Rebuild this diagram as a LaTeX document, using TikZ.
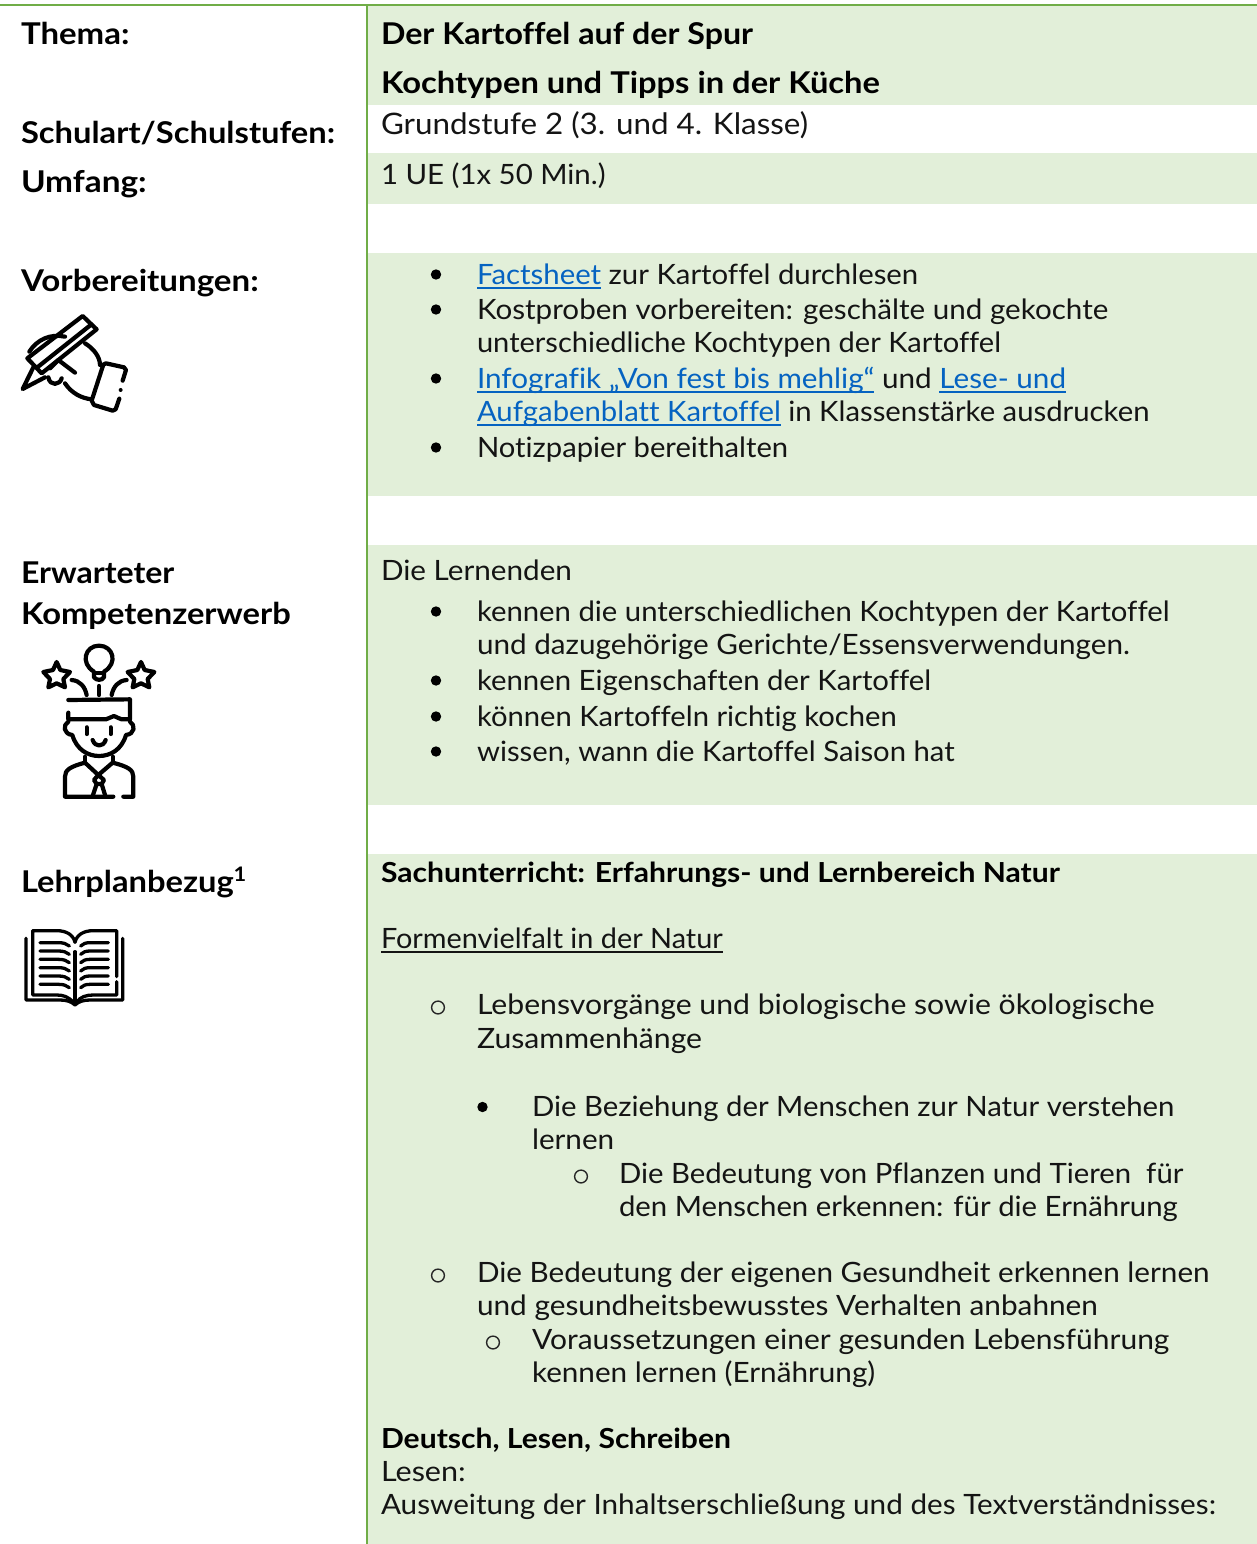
\documentclass[tikz,border=0pt]{standalone}
\usepackage{graphicx}
\usepackage{fontspec}
\setmainfont{Lato}[FakeStretch=1.06,Ligatures=NoCommon]
\newfontfamily\headf{Lato}[FakeStretch=1.09,Ligatures=NoCommon]
\definecolor{bandgreen}{HTML}{E2EFD9}
\definecolor{rulegreen}{HTML}{70AD47}
\definecolor{linkblue}{HTML}{0563C1}
\newcommand{\ulx}[1]{\setbox0=\hbox{#1}\rlap{\rule[-4.5pt]{\wd0}{1.4pt}}\box0}
\newcommand{\sx}[2]{\scalebox{#1}[1]{#2}}
\tikzset{
  body/.style={anchor=base west,inner sep=0pt,outer sep=0pt,font=\fontsize{28}{33}\selectfont,text=black!92},
  bodybig/.style={body,font=\fontsize{29.6}{33}\selectfont},
  head/.style={anchor=base west,inner sep=0pt,outer sep=0pt,font=\headf\fontsize{30}{33}\selectfont\bfseries},
  headsmall/.style={head,font=\headf\fontsize{27.6}{33}\selectfont\bfseries},
  band/.style={fill=bandgreen,draw=none},
  dotb/.style={fill=black,draw=none},
  ringb/.style={draw=black!85,line width=1.4pt,fill=none},
  ico/.style={line width=4.2pt,line cap=round,line join=round,draw=black,fill=none},
  icob/.style={ico,line width=3.3pt},
}
\begin{document}
\begin{tikzpicture}[x=1pt,y=-1pt]
\useasboundingbox (0,0) rectangle (1257,1544);
\fill[white] (0,0) rectangle (1257,1544);
\fill[band] (367,5) rectangle (1257,105);
\fill[band] (367,153) rectangle (1257,204);
\fill[band] (367,253) rectangle (1257,496);
\fill[band] (367,545) rectangle (1257,805);
\fill[band] (367,854) rectangle (1257,1544);
\draw[rulegreen,line width=2.2pt] (0,5) -- (1257,5);
\draw[rulegreen,line width=2.2pt] (367,5) -- (367,1544);
% left column
\node[head] (l1) at (21,44.5) {\sx{1.008}{Thema:}};
\node[head] (l2) at (21,143) {Schulart/Schulstufen:};
\node[head] (l3) at (21,192) {\sx{1.02}{Umfang:}};
\node[head] (l4) at (21,291.5) {\sx{1.012}{Vorbereitungen:}};
\node[head] (l5) at (21,583.5) {\sx{0.98}{Erwarteter}};
\node[head] (l6) at (21,624.5) {Kompetenzerwerb};
\node[head] (l7) at (21,892.5) {Lehrplanbezug\raisebox{11pt}{\fontsize{20}{20}\selectfont 1}};
% right column
\node[head] (r1) at (381,44.5) {\sx{0.984}{Der Kartoffel auf der Spur}};
\node[head] (r2) at (381,94) {Kochtypen und Tipps in der Küche};
\node[bodybig] (r3) at (381,134.5) {Grundstufe 2 (3. und 4. Klasse)};
\node[body] (r4) at (381,184) {\sx{0.99}{1 UE (1x 50 Min.)}};
\node[body] (p1) at (477,284) {\sx{0.989}{\textcolor{linkblue}{\ulx{Factsheet}} zur Kartoffel durchlesen}};
\node[body] (p2) at (477,319) {\sx{0.997}{Kostproben vorbereiten: geschälte und gekochte}};
\node[body] (p3) at (477,352) {\sx{0.979}{unterschiedliche Kochtypen der Kartoffel}};
\node[body] (p4) at (477,388) {\textcolor{linkblue}{\ulx{Infografik „Von fest bis mehlig“}} und \textcolor{linkblue}{\ulx{Lese- und}}};
\node[body] (p5) at (477,421) {\sx{0.987}{\textcolor{linkblue}{\ulx{Aufgabenblatt Kartoffel}} in Klassenstärke ausdrucken}};
\node[body] (p6) at (477,457) {\sx{0.984}{Notizpapier bereithalten}};
\node[body] (k0) at (381,580) {Die Lernenden};
\node[body] (k1) at (477,621) {\sx{0.987}{kennen die unterschiedlichen Kochtypen der Kartoffel}};
\node[body] (k2) at (477,654) {und dazugehörige Gerichte/Essensverwendungen.};
\node[body] (k3) at (477,690) {\sx{0.989}{kennen Eigenschaften der Kartoffel}};
\node[body] (k4) at (477,726) {\sx{0.984}{können Kartoffeln richtig kochen}};
\node[body] (k5) at (477,761) {\sx{0.986}{wissen, wann die Kartoffel Saison hat}};
\node[headsmall] (s1) at (381,882.5) {Sachunterricht: Erfahrungs- und Lernbereich Natur};
\node[body] (s2) at (381,948) {\sx{0.972}{\ulx{Formenvielfalt in der Natur}}};
\node[body] (s3) at (477,1014) {\sx{1.017}{Lebensvorgänge und biologische sowie ökologische}};
\node[body] (s4) at (477,1048) {\sx{1.018}{Zusammenhänge}};
\node[body] (s5) at (532,1116) {\sx{0.989}{Die Beziehung der Menschen zur Natur verstehen}};
\node[body] (s6) at (532,1149) {lernen};
\node[body] (s7) at (619,1183) {\sx{0.988}{Die Bedeutung von Pflanzen und Tieren\ \ für}};
\node[body] (s8) at (619,1216) {\sx{0.988}{den Menschen erkennen: für die Ernährung}};
\node[body] (s9) at (477,1282) {Die Bedeutung der eigenen Gesundheit erkennen lernen};
\node[body] (s10) at (477,1315) {\sx{1.003}{und gesundheitsbewusstes Verhalten anbahnen}};
\node[body] (s11) at (532,1349) {\sx{1.01}{Voraussetzungen einer gesunden Lebensführung}};
\node[body] (s12) at (532,1382) {kennen lernen (Ernährung)};
\node[headsmall] (s13) at (381,1448.5) {Deutsch, Lesen, Schreiben};
\node[body] (s14) at (381,1481) {\sx{1.03}{Lesen:}};
\node[body] (s15) at (381,1514) {Ausweitung der Inhaltserschließung und des Textverständnisses:};
% bullets
\foreach \yy in {274.5,309.5,378.5,447.5,611.5,680.5,716.5,751.5}
  \fill[dotb] (436,\yy) circle (5.2pt);
\fill[dotb] (482.5,1107) circle (5.2pt);
\foreach \xx/\yy in {438/1007.5,438/1275.5,493/1342.5,581/1176.5}
  \draw[ringb] (\xx,\yy) circle (6.4pt);
% pen icon
\begin{scope}[shift={(0,290)},x=0.3333pt,y=-0.3333pt]
  \draw[ico] (248,78) -- (290,118) -- (125,250) -- (82,205) -- cycle;
  \draw[ico] (272,105) -- (112,232);
  \draw[ico] (100,232) -- (68,297) -- (135,262);
  \draw[ico] (88,185) .. controls (110,150) and (150,130) .. (195,140);
  \draw[ico] (255,160) .. controls (280,175) and (300,200) .. (300,225);
  \draw[ico] (195,280) .. controls (215,310) and (245,325) .. (275,328);
  \draw[ico] (225,248) -- (175,210) -- (150,235);
  \draw[ico] (145,262) .. controls (150,290) and (180,285) .. (185,265);
  \draw[ico] (368,272) -- (378,240) -- (372,232) -- (318,220) -- (310,224) -- (275,332) -- (282,345) -- (338,362) -- (347,358) -- (358,326);
  \fill (362,300) circle (6);
\end{scope}
% person icon
\begin{scope}[shift={(20,630)},x=0.3333pt,y=-0.3333pt]
  \draw[ico] (222,125) .. controls (180,100) and (195,47) .. (237,47) .. controls (280,47) and (295,100) .. (252,125) -- (252,142) .. controls (245,152) and (230,152) .. (222,142) -- cycle;
  \draw[ico] (224,128) -- (250,128);
  \foreach \cx in {110,363}{
    \draw[ico] (\cx,96) -- (\cx+11,120) -- (\cx+40,126) -- (\cx+20,147) -- (\cx+25,172) -- (\cx,160) -- (\cx-25,172) -- (\cx-20,147) -- (\cx-40,126) -- (\cx-11,120) -- cycle;
  }
  \draw[ico] (155,150) .. controls (180,152) and (195,170) .. (200,195);
  \draw[ico] (320,150) .. controls (295,152) and (280,170) .. (275,195);
  \draw[ico] (237,168) -- (237,195);
  \draw[ico] (145,210) -- (330,208) -- (330,268) -- (305,268) .. controls (295,268) and (290,258) .. (282,258) .. controls (272,258) and (268,268) .. (258,268) -- (145,268) -- (145,248);
  \draw[ico] (145,275) .. controls (128,285) and (130,312) .. (157,315) .. controls (170,360) and (205,378) .. (237,378) .. controls (270,378) and (305,360) .. (318,315) .. controls (345,312) and (347,285) .. (330,275);
  \draw[ico] (200,292) -- (200,312);
  \draw[ico] (272,292) -- (272,312);
  \draw[ico] (218,330) .. controls (225,352) and (250,352) .. (257,330);
  \draw[ico] (280,500) -- (135,500) -- (135,440) .. controls (135,420) and (150,410) .. (195,398) -- (235,435) -- (278,398) .. controls (325,410) and (340,420) .. (340,440) -- (340,500) -- (310,500);
  \draw[ico] (195,398) -- (195,380);
  \draw[ico] (278,398) -- (278,380);
  \draw[ico] (235,435) -- (222,450) -- (230,462) -- (245,462) -- (252,450) -- cycle;
  \draw[ico] (230,462) -- (218,498);
  \draw[ico] (245,462) -- (256,498);
\end{scope}
% book icon
\begin{scope}[shift={(10,915)},x=0.3333pt,y=-0.3333pt]
  \draw[icob] (48,70) -- (48,255) -- (150,255) .. controls (170,255) and (185,260) .. (195,270) .. controls (205,260) and (220,255) .. (240,255) -- (338,255) -- (338,70);
  \draw[icob] (190,262) .. controls (175,245) and (160,240) .. (140,240) -- (68,240) -- (68,47) -- (140,47) .. controls (170,47) and (190,60) .. (195,82) .. controls (200,60) and (220,47) .. (250,47) -- (320,47) -- (320,185);
  \draw[icob] (320,200) -- (320,240) -- (250,240) .. controls (230,240) and (210,245) .. (200,262);
  \draw[icob] (195,110) -- (195,262);
  \foreach \yy in {83,108,133,158,183,208}{
    \draw[icob] (90,\yy) -- (145,\yy) .. controls (160,\yy) and (170,\yy+3) .. (178,\yy+10);
    \draw[icob] (295,\yy) -- (240,\yy) .. controls (228,\yy) and (218,\yy+3) .. (212,\yy+10);
  }
\end{scope}
\end{tikzpicture}
\end{document}
